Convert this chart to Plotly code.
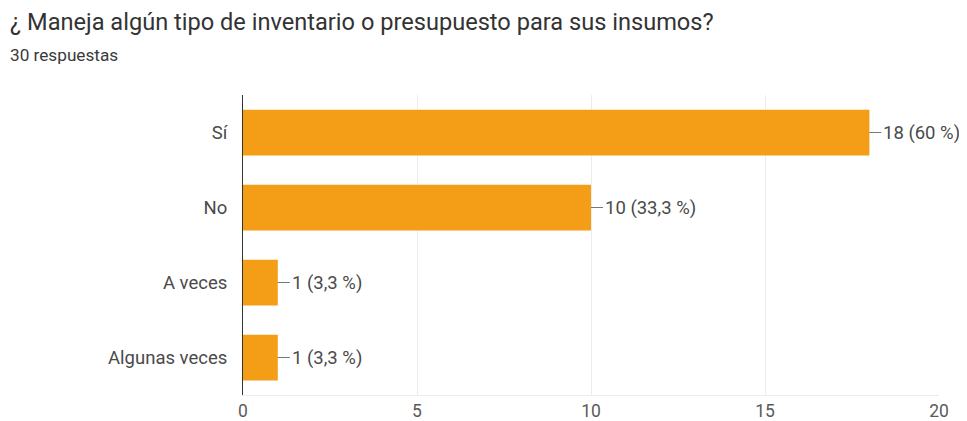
import plotly.graph_objects as go

categories = ["Sí", "No", "A veces", "Algunas veces"]
counts = [18, 10, 1, 1]
labels = ["18 (60 %)", "10 (33,3 %)", "1 (3,3 %)", "1 (3,3 %)"]
x_ticks = [0, 5, 10, 15, 20]

# page body has an 8px margin, so the figure is 8px smaller than the window
W, H = 959, 413
L, R, T, B = 235, 28, 87, 26
plot_h = H - T - B
plot_w = W - L - R

FONT = "Roboto, Arial"

fig = go.Figure(go.Bar(
    x=counts, y=categories, orientation="h",
    marker=dict(color="#F49E18", line=dict(width=0)),
    width=0.61, hoverinfo="skip",
))

for c, v, t in zip(categories, counts, labels):
    fig.add_annotation(
        x=v, y=c, xref="x", yref="y", text=t,
        showarrow=True, arrowhead=0, arrowwidth=1, arrowcolor="#777",
        ax=12, ay=0, xanchor="left", standoff=0, startstandoff=0,
        font=dict(family=FONT, size=18.5, color="#4a4a4a"),
    )

fig.add_annotation(
    xref="paper", yref="paper", x=(0 - L) / plot_w, y=(H - B - 14) / plot_h,
    text="¿ Maneja algún tipo de inventario o presupuesto para sus insumos?",
    showarrow=False, xanchor="left", yanchor="middle",
    font=dict(family=FONT, size=23.6, color="#333333"),
)
fig.add_annotation(
    xref="paper", yref="paper", x=(0 - L) / plot_w, y=(H - B - 47) / plot_h,
    text="30 respuestas",
    showarrow=False, xanchor="left", yanchor="middle",
    font=dict(family=FONT, size=17.2, color="#3a3a3a"),
)

fig.update_layout(
    width=W, height=H,
    margin=dict(l=L, r=R, t=T, b=B, autoexpand=False),
    paper_bgcolor="white", plot_bgcolor="white",
    showlegend=False,
    bargap=0.39,
    xaxis=dict(
        range=[0, 20], tickvals=x_ticks, ticktext=[str(v) for v in x_ticks],
        showgrid=True, gridcolor="#ececec", gridwidth=1,
        zeroline=False, showline=True, linecolor="#ececec",
        tickfont=dict(family=FONT, size=17.5, color="#5a5a5a"),
        ticks="", fixedrange=True, automargin=False,
    ),
    yaxis=dict(
        autorange="reversed", showgrid=False, zeroline=False,
        showline=True, linecolor="#333", linewidth=1,
        tickfont=dict(family=FONT, size=18.5, color="#4a4a4a"),
        ticks="", ticklabelstandoff=11, fixedrange=True, automargin=False,
    ),
)

fig.write_html("out.html")
